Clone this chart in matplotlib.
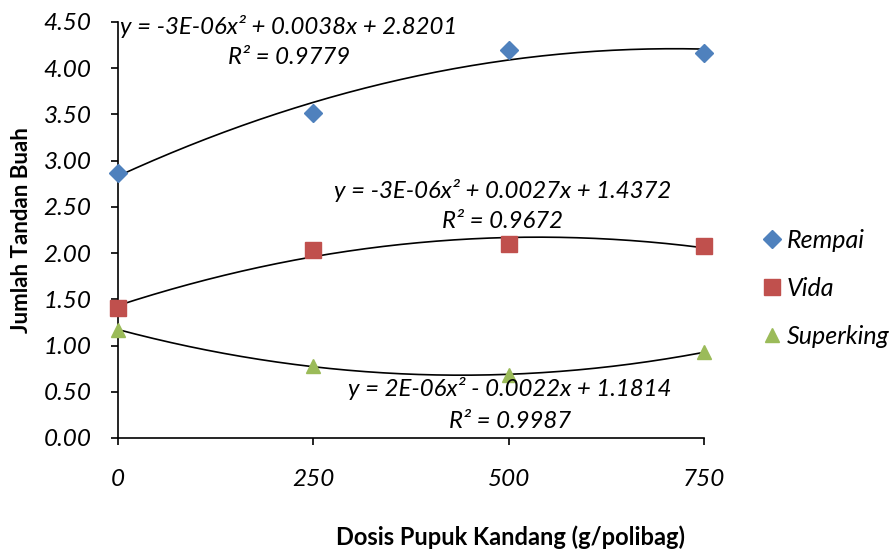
import numpy as np
import matplotlib
matplotlib.use("Agg")
import matplotlib.pyplot as plt

plt.rcParams['font.family'] = ['Lato', 'DejaVu Sans']

dosis = [0, 250, 500, 750]
rempai = [2.87, 3.52, 4.20, 4.17]
vida = [1.41, 2.03, 2.10, 2.08]
superking = [1.17, 0.78, 0.68, 0.93]

eq_rempai = ["y = -3E-06x² + 0.0038x + 2.8201", "R² = 0.9779"]
eq_vida = ["y = -3E-06x² + 0.0027x + 1.4372", "R² = 0.9672"]
eq_super = ["y = 2E-06x² - 0.0022x + 1.1814", "R² = 0.9987"]

yticks = [0, 0.5, 1.0, 1.5, 2.0, 2.5, 3.0, 3.5, 4.0, 4.5]

fig = plt.figure(figsize=(8.94, 5.52), dpi=100)
ax = fig.add_axes([118/894, 1-438/552, (704-118)/894, (438-22)/552])

series = [
    ("Rempai", rempai, "#4F81BD", "D", 9),
    ("Vida", vida, "#C0504D", "s", 11),
    ("Superking", superking, "#9BBB59", "^", 10),
]
xs = np.linspace(0, 750, 200)
for name, vals, col, mk, ms in series:
    ax.plot(dosis, vals, linestyle='none', marker=mk, color=col, markersize=ms,
            label=name, clip_on=False, zorder=3)
    c = np.polyfit(dosis, vals, 2)
    ax.plot(xs, np.polyval(c, xs), color='black', lw=1.2, zorder=2)

ax.set_xlim(0, 750)
ax.set_ylim(0, 4.5)
ax.set_xticks(dosis)
ax.set_yticks(yticks)
ax.set_yticklabels([f"{v:.2f}" for v in yticks], fontsize=17.5, style='italic')
ax.set_xticklabels([str(d) for d in dosis], fontsize=17.5, style='italic')
ax.tick_params(axis='x', direction='out', length=5, width=1.2, pad=17)
ax.tick_params(axis='y', direction='out', length=5, width=1.2, pad=14)
for s in ['top', 'right']:
    ax.spines[s].set_visible(False)
for s in ['left', 'bottom']:
    ax.spines[s].set_linewidth(1.2)

def px(x, y):
    return x/894, 1 - y/552

kw = dict(fontsize=17.3, style='italic', ha='center', va='center')
fig.text(*px(289, 26), eq_rempai[0], **kw)
fig.text(*px(289, 57), eq_rempai[1], **kw)
fig.text(*px(503, 191), eq_vida[0], **kw)
fig.text(*px(503, 222), eq_vida[1], **kw)
fig.text(*px(510, 389), eq_super[0], **kw)
fig.text(*px(510, 421), eq_super[1], **kw)

fig.text(*px(22, 230), "Jumlah Tandan Buah", rotation=90, fontsize=16,
         fontweight='bold', ha='center', va='center')
fig.text(*px(511, 537), "Dosis Pupuk Kandang (g/polibag)", fontsize=17,
         fontweight='bold', ha='center', va='center')

leg = fig.legend(loc='center left', bbox_to_anchor=(757/894, 1-288/552),
                 frameon=False, prop={'size': 18, 'style': 'italic'},
                 handletextpad=0.0, labelspacing=1.0, handlelength=1.2,
                 borderaxespad=0, borderpad=0)

fig.savefig("out.png", dpi=100)
